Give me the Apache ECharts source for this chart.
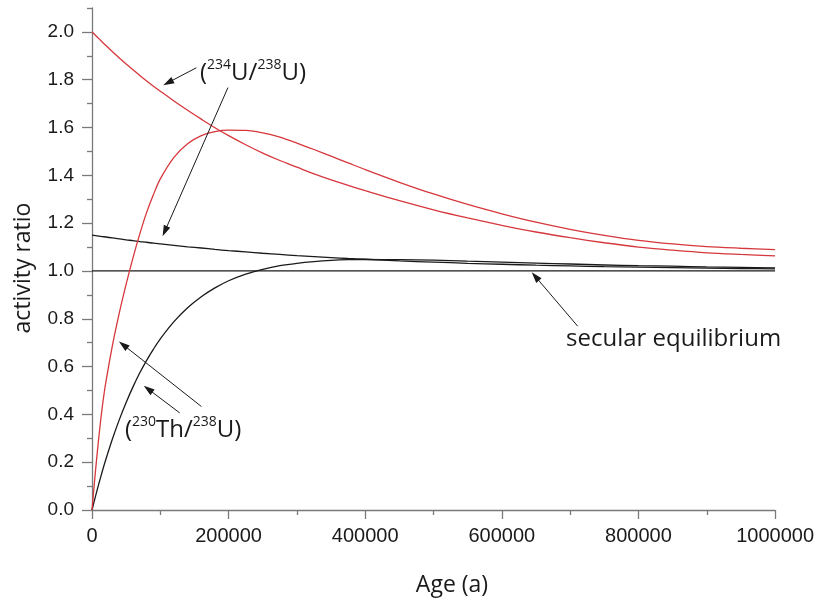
<!DOCTYPE html>
<html><head><meta charset="utf-8">
<script src="https://cdn.jsdelivr.net/npm/echarts@6/dist/echarts.min.js"></script>
<style>html,body{margin:0;padding:0;background:#fff}#c{width:817px;height:600px}</style>
</head><body><div id="c"></div>
<script>
// Ages (a) at which the curves were read
const ages = [0,5000,10000,15000,20000,30000,40000,50000,60000,70000,80000,90000,100000,120000,140000,160000,180000,200000,225000,250000,275000,300000,325000,350000,375000,400000,450000,500000,550000,600000,650000,700000,750000,800000,850000,900000,950000,1000000];
// (234U/238U), initial 2.0 (red)
const u234Red = [2.000,1.986,1.972,1.958,1.944,1.917,1.891,1.866,1.842,1.818,1.795,1.773,1.752,1.711,1.672,1.635,1.599,1.566,1.528,1.493,1.462,1.434,1.406,1.381,1.358,1.336,1.294,1.256,1.222,1.191,1.163,1.139,1.118,1.100,1.087,1.076,1.069,1.063];
// (230Th/238U), initial (234U/238U) 2.0 (red)
const th230Red = [0,0.16,0.305,0.43,0.53,0.69,0.825,0.945,1.055,1.155,1.245,1.32,1.385,1.475,1.532,1.566,1.583,1.589,1.588,1.578,1.560,1.535,1.508,1.480,1.452,1.424,1.371,1.322,1.278,1.239,1.204,1.174,1.149,1.128,1.113,1.102,1.095,1.089];
// (234U/238U), initial 1.15 (black)
const u234Black = [1.150,1.148,1.146,1.144,1.142,1.138,1.134,1.130,1.127,1.123,1.120,1.116,1.113,1.107,1.101,1.096,1.090,1.085,1.080,1.074,1.069,1.064,1.060,1.056,1.052,1.049,1.042,1.037,1.032,1.028,1.024,1.021,1.018,1.016,1.014,1.012,1.010,1.009];
// (230Th/238U), initial (234U/238U) 1.15 (black)
const th230Black = [0,0.056,0.110,0.161,0.209,0.298,0.378,0.450,0.515,0.574,0.626,0.673,0.716,0.788,0.846,0.892,0.929,0.959,0.987,1.007,1.022,1.032,1.039,1.044,1.047,1.048,1.047,1.045,1.041,1.037,1.033,1.029,1.025,1.022,1.020,1.017,1.015,1.013];
// secular equilibrium
const eqAges = [0,1000000];
const eqValues = [1,1];
// axis ticks
const xTicks = [0,200000,400000,600000,800000,1000000];
const yTicks = [0,0.2,0.4,0.6,0.8,1.0,1.2,1.4,1.6,1.8,2.0];
const yMinorTicks = [0.1,0.3,0.5,0.7,0.9,1.1,1.3,1.5,1.7,1.9,2.1];
// annotation arrows [fromAge, fromRatio, toAge, toRatio]
const arrows = [
  [152800,1.850,111400,1.788],
  [199000,1.767,106600,1.166],
  [160100,0.433,45700,0.691],
  [128500,0.406,82200,0.506],
  [711000,0.769,649000,0.977]
];

const RED = '#d6373c', BLACK = '#1a1a1a', AXIS = '#7a7a7a';
const pairs = (xs, ys) => xs.map((x, i) => [x, ys[i]]);
const lineSeries = (name, data, color) => ({
  name, type: 'line', data, showSymbol: false, smooth: 0.3,
  lineStyle: { color, width: 1.3 }, itemStyle: { color }, silent: true, z: 3
});
const ARROW_HEAD = 'path://M0,0L0.01,0ZM11,0L10.99,0ZM5.5,0L9,11L2,11Z';

const chart = echarts.init(document.getElementById('c'));
const rich = {
  m: { fontSize: 24, fontFamily: 'Open Sans', lineHeight: 30, fill: BLACK },
  s: { fontSize: 14, fontFamily: 'Open Sans', verticalAlign: 'top', fill: BLACK }
};
chart.setOption({
  animation: false,
  backgroundColor: '#fff',
  grid: [
    { left: 92, right: 40, top: 8, bottom: 90 },
    { left: 92, right: 40, top: 8, bottom: 90 }
  ],
  xAxis: [
    {
      type: 'value', gridIndex: 0, min: 0, max: 1000000, interval: 200000,
      axisLine: { lineStyle: { color: AXIS, width: 1.3 } },
      axisTick: { length: 9, lineStyle: { color: AXIS, width: 1.3 }, customValues: xTicks },
      minorTick: { show: true, splitNumber: 2, length: 5, lineStyle: { color: AXIS, width: 1.3 } },
      splitLine: { show: false },
      axisLabel: { customValues: xTicks, margin: 16, fontSize: 20, fontFamily: 'Liberation Sans', color: BLACK, formatter: v => String(v) }
    },
    { type: 'value', gridIndex: 1, min: 0, max: 1000000, show: false }
  ],
  yAxis: [
    {
      type: 'value', gridIndex: 0, min: 0, max: 2.1, interval: 0.2,
      axisLine: { show: true, lineStyle: { color: AXIS, width: 1.3 } },
      axisTick: { show: true, length: 10, customValues: yTicks, lineStyle: { color: AXIS, width: 1.3 } },
      splitLine: { show: false },
      axisLabel: { customValues: yTicks, margin: 18, fontSize: 19, fontFamily: 'Liberation Sans', color: BLACK, formatter: v => v.toFixed(1) }
    },
    {
      type: 'value', gridIndex: 1, min: 0, max: 2.1, interval: 0.1,
      axisLine: { show: false },
      axisTick: { show: true, length: 5, customValues: yMinorTicks, lineStyle: { color: AXIS, width: 1.3 } },
      splitLine: { show: false },
      axisLabel: { show: false }
    }
  ],
  series: [
    Object.assign(lineSeries('eq', pairs(eqAges, eqValues), BLACK), {
      markLine: {
        silent: true, animation: false,
        symbol: ['none', ARROW_HEAD], symbolSize: 11,
        label: { show: false },
        lineStyle: { color: BLACK, width: 1, type: 'solid' },
        emphasis: { disabled: true },
        data: arrows.map(a => [{ coord: [a[0], a[1]] }, { coord: [a[2], a[3]] }])
      }
    }),
    lineSeries('u234Black', pairs(ages, u234Black), BLACK),
    lineSeries('th230Black', pairs(ages, th230Black), BLACK),
    lineSeries('u234Red', pairs(ages, u234Red), RED),
    lineSeries('th230Red', pairs(ages, th230Red), RED)
  ],
  graphic: [
    { type: 'text', x: 200, y: 73, style: { text: '{m|(}{s|234}{m|U/}{s|238}{m|U)}', rich, align: 'left', verticalAlign: 'middle' } },
    { type: 'text', x: 125, y: 430, style: { text: '{m|(}{s|230}{m|Th/}{s|238}{m|U)}', rich, align: 'left', verticalAlign: 'middle' } },
    { type: 'text', x: 566, y: 339, style: { text: 'secular equilibrium', font: '24px "Open Sans"', fill: BLACK, align: 'left', verticalAlign: 'middle' } },
    { type: 'text', x: 452, y: 585, style: { text: 'Age (a)', font: '23px "Open Sans"', fill: BLACK, align: 'center', verticalAlign: 'middle' } },
    { type: 'text', x: 23, y: 268, rotation: Math.PI / 2, style: { text: 'activity ratio', font: '23px "Open Sans"', fill: BLACK, align: 'center', verticalAlign: 'middle' } }
  ]
});
</script></body></html>
